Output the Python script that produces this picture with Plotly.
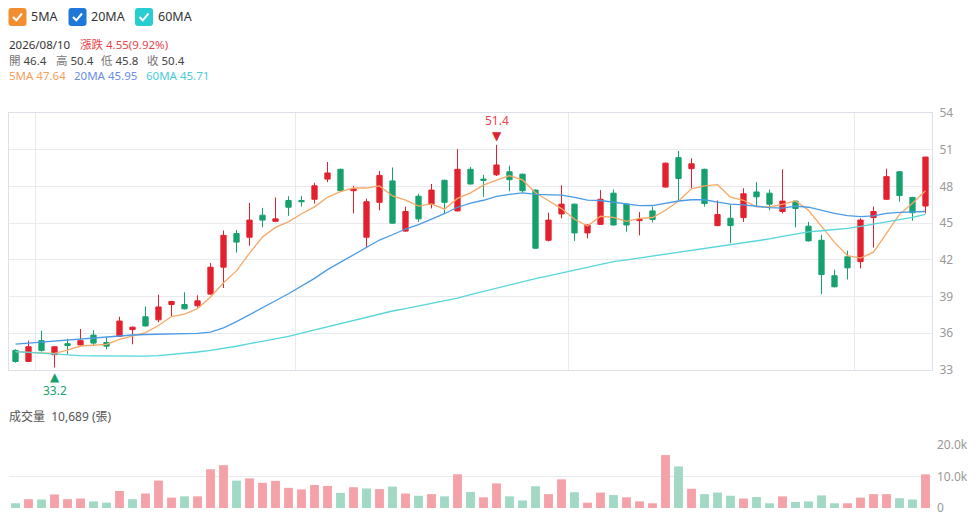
import plotly.graph_objects as go
from plotly.subplots import make_subplots

# ---- data ----
LAST_DATE = '2026/08/10'
MONTH_LABELS = ['五月', '六月', '七月', '八月']
MONTH_FIRST_BAR = [2, 22, 43, 65]

OPEN = [34.6, 33.7, 35.4, 34.25, 35.15, 35.05, 35.85, 35.25, 35.75, 36.3,
        37.35, 37.1, 38.35, 38.35, 38.25, 39.2, 41.4, 44.15, 43.85, 45.65,
        45.15, 46.85, 46.85, 46.95, 48.6, 49.4, 47.65, 43.85, 46.7, 48.45,
        44.35, 47.2, 46.55, 48.5, 46.0, 49.4, 48.6, 48.95, 49.2, 49.0,
        47.7, 43.6, 45.75, 46.55, 44.2, 44.9, 47.45, 46.55, 45.2, 46.0,
        47.95, 50.35, 49.45, 49.4, 44.8, 45.4, 45.45, 47.55, 47.45, 45.95,
        46.8, 44.75, 43.6, 40.7, 42.25, 41.85, 45.45, 46.95, 49.2, 47.1,
        46.4]
HIGH = [34.7, 35.4, 36.2, 34.95, 35.55, 36.35, 36.25, 35.7, 37.35, 36.55,
        38.2, 39.15, 38.65, 39.35, 39.1, 41.75, 44.4, 44.45, 46.65, 46.25,
        47.1, 47.2, 47.2, 48.3, 50.0, 49.45, 48.05, 47.0, 49.25, 49.55,
        46.35, 47.4, 48.2, 48.55, 51.05, 49.6, 48.95, 51.4, 49.7, 49.05,
        47.75, 45.85, 48.1, 46.6, 44.9, 47.7, 47.75, 46.6, 45.9, 46.35,
        49.95, 50.9, 50.3, 49.45, 46.85, 46.5, 47.85, 48.35, 47.75, 49.4,
        46.85, 45.1, 44.05, 41.2, 42.75, 45.4, 46.35, 49.45, 49.25, 47.15,
        50.4]
LOW = [33.6, 33.7, 34.5, 33.2, 34.3, 35.0, 35.0, 34.7, 35.7, 35.1,
       36.55, 36.9, 37.4, 37.95, 38.1, 39.15, 39.7, 42.6, 43.15, 44.65,
       45.1, 45.6, 46.35, 46.6, 48.35, 47.6, 45.8, 43.0, 46.05, 44.95,
       44.3, 45.1, 46.2, 45.8, 45.95, 48.15, 47.15, 48.85, 47.6, 47.5,
       42.9, 43.5, 45.4, 43.55, 43.75, 44.85, 44.8, 44.3, 44.0, 45.05,
       47.9, 46.9, 47.85, 46.35, 44.75, 43.35, 45.1, 46.35, 46.05, 45.8,
       44.65, 43.5, 39.2, 39.75, 40.4, 41.3, 43.0, 46.9, 46.75, 45.2,
       45.8]
CLOSE = [33.7, 34.9, 34.6, 34.9, 35.0, 35.4, 35.2, 34.95, 37.0, 36.5,
         36.6, 38.15, 38.6, 38.0, 38.65, 41.4, 44.0, 43.45, 45.25, 45.25,
         45.35, 46.3, 46.75, 48.05, 49.1, 47.65, 47.8, 46.75, 48.9, 45.0,
         45.95, 45.35, 47.7, 46.7, 49.4, 48.2, 48.5, 49.75, 48.55, 47.65,
         42.95, 45.25, 46.55, 44.2, 44.85, 46.95, 44.85, 44.85, 45.3, 45.3,
         49.9, 48.65, 49.85, 46.6, 45.7, 44.8, 47.4, 47.15, 46.55, 46.8,
         46.2, 43.55, 40.8, 39.8, 41.35, 45.25, 45.95, 48.8, 47.25, 45.85,
         50.4]
VOLUME = [1500, 2800, 2700, 4300, 2800, 3000, 2100, 1700, 5400, 2800,
          4600, 8700, 3300, 3700, 3700, 12300, 13600, 8700, 9400, 8000,
          8600, 6400, 5900, 7300, 7000, 4800, 6600, 6200, 6000, 6800,
          4600, 3900, 4400, 3700, 10700, 5100, 3400, 7800, 3700, 2400,
          6900, 4400, 9100, 5000, 1700, 4900, 4100, 3400, 2100, 1500,
          16800, 13200, 6100, 4400, 4900, 3900, 3000, 3500, 1500, 3700,
          1900, 2100, 4000, 1500, 1500, 3300, 4400, 4400, 3100, 2700,
          10689]
MA5 = [34.5, 34.43, 34.4, 34.36, 34.62, 34.96, 35.02, 35.09, 35.51, 35.81,
       36.05, 36.64, 37.37, 37.57, 38.0, 38.96, 40.13, 41.1, 42.55, 43.86,
       44.65, 45.11, 45.77, 46.33, 47.11, 47.57, 47.87, 47.87, 48.04, 47.22,
       46.88, 46.39, 46.58, 46.14, 47.02, 47.47, 48.1, 48.51, 48.88, 48.53,
       47.48, 46.83, 46.19, 45.32, 44.76, 45.56, 45.48, 45.14, 45.38, 45.46,
       46.05, 46.81, 47.81, 48.05, 48.14, 47.12, 46.87, 46.33, 46.32, 46.54,
       46.82, 46.05, 44.78, 43.43, 42.34, 42.15, 42.63, 44.23, 45.72, 46.62,
       47.64]
MA20 = [35.12, 35.2, 35.3, 35.4, 35.5, 35.58, 35.66, 35.74, 35.8, 35.86,
        35.9, 35.93, 35.96, 35.98, 36.0, 36.1, 36.45, 36.95, 37.5, 38.07,
        38.66, 39.23, 39.83, 40.49, 41.2, 41.81, 42.44, 43.03, 43.62, 44.05,
        44.52, 44.88, 45.33, 45.77, 46.3, 46.64, 46.87, 47.18, 47.35, 47.47,
        47.35, 47.3, 47.29, 47.1, 46.88, 46.85, 46.7, 46.61, 46.43, 46.44,
        46.64, 46.81, 46.91, 46.91, 46.72, 46.55, 46.5, 46.37, 46.27, 46.23,
        46.39, 46.3, 46.02, 45.8, 45.62, 45.54, 45.59, 45.79, 45.88, 45.91,
        45.95]
MA60 = [34.5, 34.43, 34.35, 34.28, 34.23, 34.18, 34.16, 34.14, 34.14, 34.14,
        34.14, 34.18, 34.27, 34.36, 34.47, 34.61, 34.76, 34.94, 35.15, 35.34,
        35.52, 35.75, 36.02, 36.28, 36.55, 36.82, 37.08, 37.35, 37.61, 37.82,
        38.02, 38.22, 38.42, 38.61, 38.87, 39.15, 39.42, 39.7, 39.98, 40.24,
        40.47, 40.7, 40.93, 41.16, 41.39, 41.62, 41.85, 42.0, 42.15, 42.3,
        42.45, 42.6, 42.75, 42.91, 43.07, 43.23, 43.39, 43.55, 43.71, 43.92,
        44.13, 44.28, 44.38, 44.46, 44.57, 44.73, 44.91, 45.14, 45.31, 45.47,
        45.71]
PRICE_TICKS = [33, 36, 39, 42, 45, 48, 51, 54]
VOLUME_TICKS = [0, 10000, 20000]
VOLUME_TICK_TEXT = ['0', '10.0k', '20.0k']

# ---- style ----
# page is drawn 8px in from the window corner, so the figure is 8px smaller
OFFSET = 8
W, H = 968, 510
M_L, M_R, M_T, M_B = 1, 44, 105, 10
RED = '#E3212E'
GREEN = '#16A06E'
VOL_RED = '#F4A2A7'
VOL_GREEN = '#A1D9C5'
C_MA5, C_MA20, C_MA60 = '#F7A865', '#4A9BE6', '#55D6DA'
BOX_MA5, BOX_MA20, BOX_MA60 = '#F28E2F', '#1F78D8', '#27CDD0'
GRID = '#E8EAF0'
FONT = 'Noto Sans, Noto Sans CJK TC, sans-serif'

n = len(CLOSE)
idx = list(range(n))


def px_x(px):
    """window pixel -> paper x"""
    return (px - OFFSET - M_L) / (W - M_L - M_R)


def px_y(py):
    """window pixel -> paper y"""
    return (H - M_B - (py - OFFSET)) / (H - M_T - M_B)


def paper_path(points):
    return ' '.join(f"{'M' if i == 0 else 'L'} {px_x(x):.5f},{px_y(y):.5f}"
                    for i, (x, y) in enumerate(points))


def rounded_box(x0, y0, x1, y1, r):
    def p(x, y):
        return f'{px_x(x):.5f},{px_y(y):.5f}'
    return (f'M {p(x0 + r, y0)} L {p(x1 - r, y0)} Q {p(x1, y0)} {p(x1, y0 + r)} '
            f'L {p(x1, y1 - r)} Q {p(x1, y1)} {p(x1 - r, y1)} L {p(x0 + r, y1)} '
            f'Q {p(x0, y1)} {p(x0, y1 - r)} L {p(x0, y0 + r)} Q {p(x0, y0)} {p(x0 + r, y0)} Z')


vol_colors = []
for i in range(n):
    prev = CLOSE[i - 1] if i > 0 else OPEN[i]
    vol_colors.append(VOL_RED if CLOSE[i] >= prev else VOL_GREEN)

fig = make_subplots(rows=2, cols=1, shared_xaxes=True)

fig.add_trace(
    go.Candlestick(
        x=idx, open=OPEN, high=HIGH, low=LOW, close=CLOSE,
        increasing=dict(line=dict(color=RED, width=1), fillcolor=RED),
        decreasing=dict(line=dict(color=GREEN, width=1), fillcolor=GREEN),
        whiskerwidth=0,
        showlegend=False,
    ),
    row=1, col=1,
)
for name, vals, color in (('5MA', MA5, C_MA5), ('20MA', MA20, C_MA20), ('60MA', MA60, C_MA60)):
    fig.add_trace(
        go.Scatter(x=idx, y=vals, mode='lines', name=name,
                   line=dict(color=color, width=1.3), showlegend=False),
        row=1, col=1,
    )
fig.add_trace(
    go.Bar(x=idx, y=VOLUME, marker=dict(color=vol_colors, line=dict(width=0)),
           width=0.68, showlegend=False, name='成交量'),
    row=2, col=1,
)

# highest / lowest markers
hi_i = max(idx, key=lambda i: HIGH[i])
lo_i = min(idx, key=lambda i: LOW[i])
anns = [
    dict(x=hi_i, y=HIGH[hi_i], xref='x', yref='y', text=f'{HIGH[hi_i]:.1f}', showarrow=False,
         yshift=24, font=dict(color='#E8434B', size=12, family=FONT)),
    dict(x=hi_i, y=HIGH[hi_i], xref='x', yref='y', text='▼', showarrow=False,
         yshift=9, font=dict(color=RED, size=12, family='DejaVu Sans')),
    dict(x=lo_i, y=LOW[lo_i], xref='x', yref='y', text=f'{LOW[lo_i]:.1f}', showarrow=False,
         yshift=-23, font=dict(color=GREEN, size=12, family=FONT)),
    dict(x=lo_i, y=LOW[lo_i], xref='x', yref='y', text='▲', showarrow=False,
         yshift=-9, font=dict(color=GREEN, size=12, family='DejaVu Sans')),
]


def label(px, py, text, color='#444', size=11.5):
    anns.append(dict(x=px_x(px), y=px_y(py), xref='paper', yref='paper', text=text,
                     showarrow=False, xanchor='left', yanchor='middle',
                     borderpad=0, borderwidth=0,
                     font=dict(color=color, size=size, family=FONT)))


# legend with check boxes
shapes = []
for bx, txt, col in ((8.5, '5MA', BOX_MA5), (68.5, '20MA', BOX_MA20), (135, '60MA', BOX_MA60)):
    shapes.append(dict(type='path', xref='paper', yref='paper', path=rounded_box(bx, 8, bx + 18, 26, 3),
                       fillcolor=col, line=dict(width=0)))
    shapes.append(dict(type='path', xref='paper', yref='paper',
                       path=paper_path([(bx + 4.5, 17), (bx + 7.8, 20.3), (bx + 13.5, 13.5)]),
                       line=dict(color='white', width=2)))
    label(bx + 22.5, 16.5, txt, '#333', 12.5)

chg = CLOSE[-1] - CLOSE[-2]
pct = chg / CLOSE[-2] * 100
label(8.5, 44.5, LAST_DATE, '#333')
label(80, 44.5, f'漲跌 {chg:.2f}({pct:.2f}%)', '#E8434B')
for px, k, v in ((8.5, '開', OPEN[-1]), (56, '高', HIGH[-1]), (101, '低', LOW[-1]), (146.5, '收', CLOSE[-1])):
    label(px, 60.5, f"<span style='color:#777'>{k}</span> {v:.1f}", '#444')
label(8.5, 76, f'5MA {MA5[-1]:.2f}', '#F5A05E')
label(73.5, 76, f'20MA {MA20[-1]:.2f}', '#6A8CE8')
label(145.5, 76, f'60MA {MA60[-1]:.2f}', '#4ACCD6')
label(8.5, 416, f"成交量  {VOLUME[-1]:,} (張)", '#555', 12)

price_bottom = px_y(370)
vol_top = px_y(445)

fig.update_layout(
    width=W, height=H,
    margin=dict(l=M_L, r=M_R, t=M_T, b=M_B),
    paper_bgcolor='white', plot_bgcolor='white',
    boxgap=0.42,
    showlegend=False,
    annotations=anns,
    shapes=shapes,
    font=dict(family=FONT, size=12, color='#555'),
    hovermode='x',
    xaxis=dict(domain=[0, 1], range=[-0.5, n - 0.5], rangeslider=dict(visible=False),
               tickvals=[b - 0.5 for b in MONTH_FIRST_BAR], ticktext=MONTH_LABELS,
               ticklabelshift=5, ticks='', showgrid=True, gridcolor=GRID, gridwidth=1,
               showline=True, linecolor='#DDE0E8', mirror=True, zeroline=False,
               tickfont=dict(color='#555', size=12)),
    yaxis=dict(domain=[price_bottom, 1], range=[33, 54], side='right', tickvals=PRICE_TICKS,
               showgrid=True, gridcolor=GRID, showline=True, linecolor='#DDE0E8', mirror=True,
               zeroline=False, ticks='', ticklabelstandoff=4, tickfont=dict(color='#999', size=12)),
    xaxis2=dict(domain=[0, 1], range=[-0.5, n - 0.5], matches='x', showticklabels=False,
                showgrid=False, zeroline=False, showline=False, rangeslider=dict(visible=False)),
    yaxis2=dict(domain=[0, vol_top], range=[0, 20000], side='right', tickvals=VOLUME_TICKS,
                ticktext=VOLUME_TICK_TEXT, showgrid=True, gridcolor=GRID, zeroline=False,
                showline=False, ticks='', ticklabelstandoff=4, tickfont=dict(color='#999', size=12)),
)

fig.write_html('out.html', config={'displayModeBar': False})
